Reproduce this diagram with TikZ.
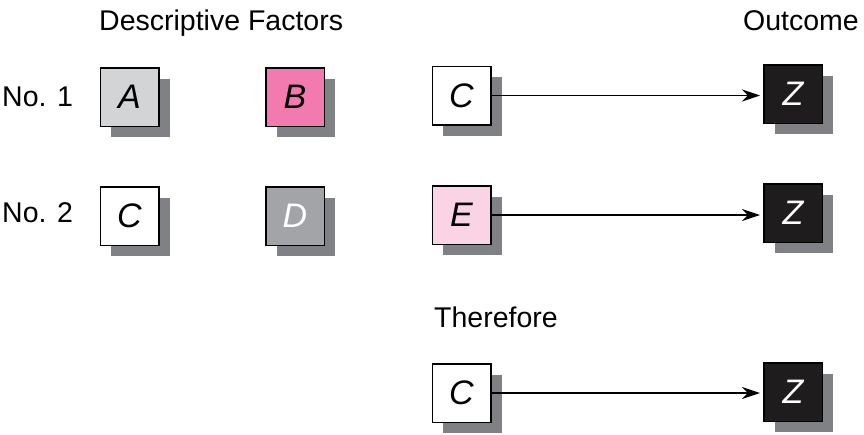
\documentclass[tikz,border=0pt]{standalone}
\usepackage{fontspec}
\setmainfont{Liberation Sans}
\usetikzlibrary{shadows,arrows.meta}
\definecolor{shgray}{RGB}{128,129,132}
\definecolor{agray}{RGB}{211,212,214}
\definecolor{bpink}{RGB}{242,122,174}
\definecolor{dgray}{RGB}{163,164,167}
\definecolor{epink}{RGB}{250,212,228}
\definecolor{zblack}{RGB}{30,28,29}
\begin{document}
\begin{tikzpicture}[x=1pt,y=-1pt,
  sqbox/.style={draw=black, line width=1.5pt, minimum size=58.5pt, inner sep=0pt,
    font=\fontsize{34}{40}\selectfont\itshape,
    drop shadow={shadow xshift=11pt,shadow yshift=-11pt,fill=shgray,opacity=1,draw=none}},
  lbl/.style={anchor=base west, inner sep=0pt, font=\fontsize{28.5}{34}\selectfont},
  arr/.style={-{Stealth[length=18pt,width=12pt]}, line width=1.3pt, shorten >=3pt}]
\useasboundingbox (0,0) rectangle (864,434);
\fill[white] (0,0) rectangle (864,434);

\node[lbl] (hdf) at (99,30) {Descriptive Factors};
\node[lbl] (hout) at (743,30) {Outcome};
\node[lbl] (no1) at (2,106.5) {No. 1};
\node[lbl] (no2) at (2,222) {No. 2};
\node[lbl] (ther) at (434,327) {Therefore};

\node[sqbox, fill=agray] (A) at (129.5,97) {A};
\node[sqbox, fill=bpink] (B) at (295,97) {B};
\node[sqbox, fill=white] (C1) at (461.5,95.5) {C};
\node[sqbox, fill=zblack, text=white] (Z1) at (793,94) {Z};

\node[sqbox, fill=white] (C2) at (129.5,216) {C};
\node[sqbox, fill=dgray, text=white] (D) at (295,216) {D};
\node[sqbox, fill=epink] (E) at (461.5,215) {E};
\node[sqbox, fill=zblack, text=white] (Z2) at (793,213) {Z};

\node[sqbox, fill=white] (C3) at (461.5,393) {C};
\node[sqbox, fill=zblack, text=white] (Z3) at (793,392) {Z};

\draw[arr] (C1.east) -- (C1.east -| Z1.west);
\draw[arr] (E.east) -- (E.east -| Z2.west);
\draw[arr] (C3.east) -- (C3.east -| Z3.west);
\end{tikzpicture}
\end{document}
